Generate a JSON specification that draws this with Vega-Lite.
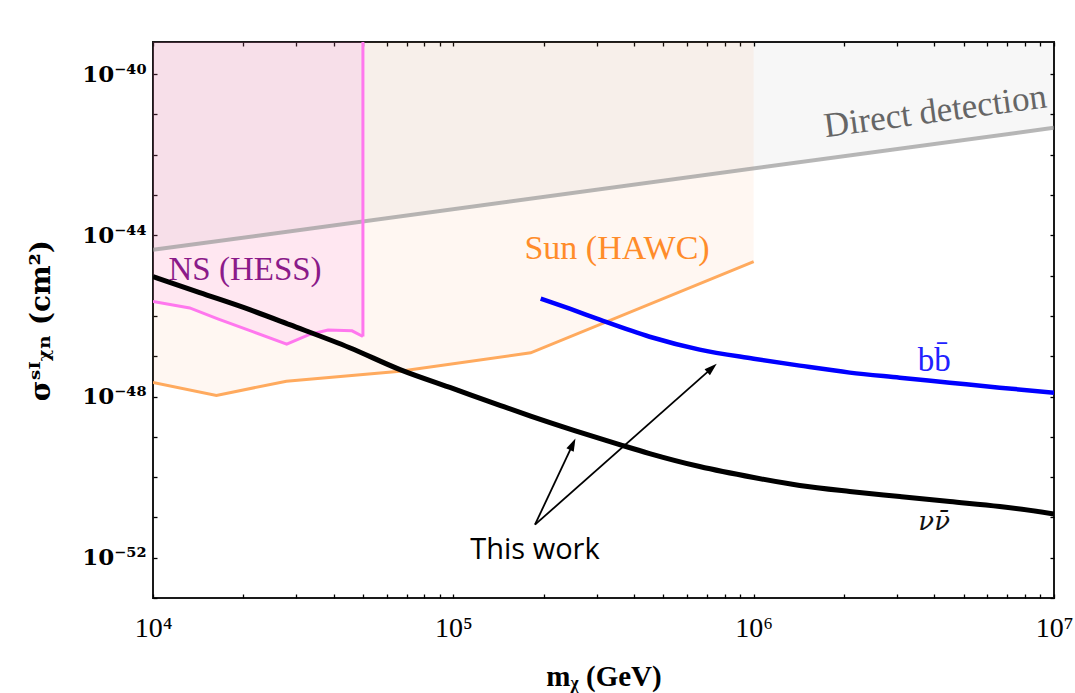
{
  "$schema": "https://vega.github.io/schema/vega-lite/v6.json",
  "width": 901,
  "height": 556,
  "autosize": {"type": "none"},
  "padding": {"left": 153, "top": 42, "right": 21, "bottom": 95},
  "background": "white",
  "datasets": {
    "nu": [
      {"m": 10000, "s": 9.42e-46}, {"m": 14310, "s": 3.78e-46}, {"m": 20990, "s": 1.43e-46},
      {"m": 28510, "s": 6.08e-47}, {"m": 45190, "s": 1.63e-47}, {"m": 66450, "s": 4.66e-48},
      {"m": 100000, "s": 1.57e-48}, {"m": 143700, "s": 5.96e-49}, {"m": 180900, "s": 3.27e-49},
      {"m": 253300, "s": 1.43e-49}, {"m": 357800, "s": 6.43e-50}, {"m": 450300, "s": 3.85e-50},
      {"m": 660700, "s": 1.83e-50}, {"m": 1000000, "s": 9.77e-51}, {"m": 1424000, "s": 6.19e-51},
      {"m": 2089000, "s": 4.40e-51}, {"m": 3066000, "s": 3.30e-51}, {"m": 4498000, "s": 2.48e-51},
      {"m": 6598000, "s": 1.87e-51}, {"m": 10000000, "s": 1.22e-51}
    ],
    "bb": [
      {"m": 195400, "s": 2.68e-46}, {"m": 244100, "s": 1.51e-46}, {"m": 307300, "s": 8.07e-47},
      {"m": 450300, "s": 3.05e-47}, {"m": 660700, "s": 1.46e-47}, {"m": 1000000, "s": 8.71e-48},
      {"m": 1424000, "s": 5.85e-48}, {"m": 2089000, "s": 3.92e-48}, {"m": 3066000, "s": 2.94e-48},
      {"m": 4498000, "s": 2.21e-48}, {"m": 6598000, "s": 1.66e-48}, {"m": 10000000, "s": 1.25e-48}
    ],
    "sun": [
      {"m": 10000, "s": 2.25e-48}, {"m": 16260, "s": 1.07e-48}, {"m": 27810, "s": 2.39e-48},
      {"m": 66450, "s": 4.23e-48}, {"m": 180900, "s": 1.22e-47}, {"m": 1000000, "s": 2.22e-45}
    ],
    "ns": [
      {"m": 10000, "s": 2.29e-46}, {"m": 13250, "s": 1.58e-46}, {"m": 16430, "s": 8.51e-47},
      {"m": 21480, "s": 4.07e-47}, {"m": 27880, "s": 2.0e-47}, {"m": 33240, "s": 3.47e-47},
      {"m": 38270, "s": 4.47e-47}, {"m": 46000, "s": 4.27e-47}, {"m": 50000, "s": 3.09e-47}
    ],
    "nsedge": [{"m": 50000, "s": 3.09e-47}],
    "dd": [{"m": 10000, "s": 4.37e-45}, {"m": 10000000, "s": 4.68e-42}],
    "arrows": [
      {"m": 187000, "s": 6.6e-52, "m2": 248500, "s2": 6.0e-50},
      {"m": 187000, "s": 6.6e-52, "m2": 719500, "s2": 4.8e-48}
    ],
    "head1": [{"m": 248500, "s": 6.0e-50}],
    "head2": [{"m": 719500, "s": 4.8e-48}]
  },
  "layer": [
    {
      "layer": [
        {
          "data": {"name": "sun"},
          "mark": {"type": "area", "color": "#ff9a4a", "opacity": 0.075, "clip": true},
          "encoding": {
            "x": {
              "field": "m", "type": "quantitative",
              "scale": {"type": "log", "domain": [10000, 10000000], "nice": false},
              "axis": {
                "orient": "bottom",
                "values": [10000, 20000, 30000, 40000, 50000, 60000, 70000, 80000, 90000, 100000, 200000, 300000, 400000, 500000, 600000, 700000, 800000, 900000, 1000000, 2000000, 3000000, 4000000, 5000000, 6000000, 7000000, 8000000, 9000000, 10000000],
                "labelExpr": "datum.value == 10000 ? '10⁴' : datum.value == 100000 ? '10⁵' : datum.value == 1000000 ? '10⁶' : datum.value == 10000000 ? '10⁷' : ''",
                "labelFont": "Liberation Serif", "labelFontSize": 28, "labelColor": "#000",
                "labelPadding": 20, "labelFlush": false, "labelOverlap": false,
                "title": "mᵪ (GeV)", "titleFont": "Liberation Serif", "titleFontSize": 29, "titleFontWeight": "bold",
                "titleColor": "#000", "titlePadding": 20
              }
            },
            "y": {
              "field": "s", "type": "quantitative",
              "scale": {"type": "log", "domain": [1e-53, 6.3e-40], "nice": false},
              "axis": {
                "orient": "left",
                "values": [1e-53, 1e-52, 1e-51, 1e-50, 1e-49, 1e-48, 1e-47, 1e-46, 1e-45, 1e-44, 1e-43, 1e-42, 1e-41, 1e-40],
                "labelExpr": "datum.value == 1e-52 ? '10⁻⁵²' : datum.value == 1e-48 ? '10⁻⁴⁸' : datum.value == 1e-44 ? '10⁻⁴⁴' : datum.value == 1e-40 ? '10⁻⁴⁰' : ''",
                "labelFont": "DejaVu Serif", "labelFontSize": 23, "labelFontWeight": "bold", "labelColor": "#000",
                "labelPadding": 11, "labelOverlap": false, "labelFlush": false,
                "title": "σˢᴵᵪₙ (cm²)", "titleFont": "DejaVu Serif", "titleFontSize": 28, "titleFontWeight": "bold",
                "titleColor": "#000", "titlePadding": 26
              }
            },
            "y2": {"datum": 1e-38}
          }
        },
        {
          "data": {"name": "ns"},
          "mark": {"type": "area", "color": "#ff77ee", "opacity": 0.12, "clip": true},
          "encoding": {
            "x": {"field": "m", "type": "quantitative"},
            "y": {"field": "s", "type": "quantitative"},
            "y2": {"datum": 1e-38}
          }
        },
        {
          "data": {"name": "dd"},
          "mark": {"type": "area", "color": "#000000", "opacity": 0.03, "clip": true},
          "encoding": {
            "x": {"field": "m", "type": "quantitative"},
            "y": {"field": "s", "type": "quantitative"},
            "y2": {"datum": 1e-38}
          }
        },
        {
          "data": {"name": "dd"},
          "mark": {"type": "line", "color": "#999999", "opacity": 0.7, "strokeWidth": 4, "clip": true},
          "encoding": {
            "x": {"field": "m", "type": "quantitative"},
            "y": {"field": "s", "type": "quantitative"}
          }
        },
        {
          "data": {"name": "sun"},
          "mark": {"type": "line", "color": "#ffaa5e", "strokeWidth": 3, "clip": true},
          "encoding": {
            "x": {"field": "m", "type": "quantitative"},
            "y": {"field": "s", "type": "quantitative"}
          }
        },
        {
          "data": {"name": "ns"},
          "mark": {"type": "line", "color": "#ff77ee", "strokeWidth": 3, "clip": true},
          "encoding": {
            "x": {"field": "m", "type": "quantitative"},
            "y": {"field": "s", "type": "quantitative"}
          }
        },
        {
          "data": {"name": "nsedge"},
          "mark": {"type": "rule", "color": "#ff77ee", "strokeWidth": 3, "clip": true},
          "encoding": {
            "x": {"field": "m", "type": "quantitative"},
            "y": {"field": "s", "type": "quantitative"},
            "y2": {"datum": 1e-38}
          }
        },
        {
          "data": {"name": "bb"},
          "mark": {"type": "line", "color": "#0000ff", "strokeWidth": 4.5, "interpolate": "monotone", "clip": true},
          "encoding": {
            "x": {"field": "m", "type": "quantitative"},
            "y": {"field": "s", "type": "quantitative"}
          }
        },
        {
          "data": {"name": "nu"},
          "mark": {"type": "line", "color": "#000000", "strokeWidth": 5, "interpolate": "monotone", "clip": true},
          "encoding": {
            "x": {"field": "m", "type": "quantitative"},
            "y": {"field": "s", "type": "quantitative"}
          }
        },
        {
          "data": {"name": "arrows"},
          "mark": {"type": "rule", "color": "#000000", "strokeWidth": 1.8},
          "encoding": {
            "x": {"field": "m", "type": "quantitative"},
            "y": {"field": "s", "type": "quantitative"},
            "x2": {"field": "m2"},
            "y2": {"field": "s2"}
          }
        },
        {
          "data": {"name": "head1"},
          "mark": {"type": "point", "shape": "M0,-1.2L0.6,0.7L-0.6,0.7Z", "filled": true, "color": "#000", "opacity": 1, "size": 180, "angle": 25},
          "encoding": {
            "x": {"field": "m", "type": "quantitative"},
            "y": {"field": "s", "type": "quantitative"}
          }
        },
        {
          "data": {"name": "head2"},
          "mark": {"type": "point", "shape": "M0,-1.2L0.6,0.7L-0.6,0.7Z", "filled": true, "color": "#000", "opacity": 1, "size": 180, "angle": 48},
          "encoding": {
            "x": {"field": "m", "type": "quantitative"},
            "y": {"field": "s", "type": "quantitative"}
          }
        },
        {
          "data": {"values": [{"m": 4020000, "s": 1.2e-41, "t": "Direct detection"}]},
          "mark": {"type": "text", "font": "Liberation Serif", "fontSize": 35, "color": "#666666", "angle": 352.3},
          "encoding": {
            "x": {"field": "m", "type": "quantitative"},
            "y": {"field": "s", "type": "quantitative"},
            "text": {"field": "t"}
          }
        },
        {
          "data": {"values": [{"m": 20250, "s": 1.41e-45, "t": "NS (HESS)"}]},
          "mark": {"type": "text", "font": "Liberation Serif", "fontSize": 33, "color": "#8b1a89"},
          "encoding": {
            "x": {"field": "m", "type": "quantitative"},
            "y": {"field": "s", "type": "quantitative"},
            "text": {"field": "t"}
          }
        },
        {
          "data": {"values": [{"m": 350900, "s": 4.68e-45, "t": "Sun (HAWC)"}]},
          "mark": {"type": "text", "font": "Liberation Serif", "fontSize": 34, "color": "#ff8c2a"},
          "encoding": {
            "x": {"field": "m", "type": "quantitative"},
            "y": {"field": "s", "type": "quantitative"},
            "text": {"field": "t"}
          }
        },
        {
          "data": {"values": [{"m": 3990000, "s": 7.76e-48, "t": "bb̄"}]},
          "mark": {"type": "text", "font": "Liberation Serif", "fontSize": 33, "color": "#2222ff"},
          "encoding": {
            "x": {"field": "m", "type": "quantitative"},
            "y": {"field": "s", "type": "quantitative"},
            "text": {"field": "t"}
          }
        },
        {
          "data": {"values": [{"m": 3990000, "s": 7.9e-52, "t": "νν̄"}]},
          "mark": {"type": "text", "font": "DejaVu Serif", "fontSize": 26, "fontStyle": "italic", "color": "#111111"},
          "encoding": {
            "x": {"field": "m", "type": "quantitative"},
            "y": {"field": "s", "type": "quantitative"},
            "text": {"field": "t"}
          }
        },
        {
          "data": {"values": [{"m": 187000, "s": 1.51e-52, "t": "This work"}]},
          "mark": {"type": "text", "font": "Open Sans", "fontSize": 29, "color": "#000000"},
          "encoding": {
            "x": {"field": "m", "type": "quantitative"},
            "y": {"field": "s", "type": "quantitative"},
            "text": {"field": "t"}
          }
        }
      ]
    },
    {
      "data": {"name": "dd"},
      "mark": {"type": "point", "opacity": 0},
      "encoding": {
        "x": {
          "field": "m", "type": "quantitative",
          "scale": {"type": "log", "domain": [10000, 10000000], "nice": false},
          "axis": {
            "orient": "top", "labels": false, "title": null, "domain": false,
            "values": [10000, 20000, 30000, 40000, 50000, 60000, 70000, 80000, 90000, 100000, 200000, 300000, 400000, 500000, 600000, 700000, 800000, 900000, 1000000, 2000000, 3000000, 4000000, 5000000, 6000000, 7000000, 8000000, 9000000, 10000000]
          }
        },
        "y": {
          "field": "s", "type": "quantitative",
          "scale": {"type": "log", "domain": [1e-53, 6.3e-40], "nice": false},
          "axis": {
            "orient": "right", "labels": false, "title": null, "domain": false,
            "values": [1e-53, 1e-52, 1e-51, 1e-50, 1e-49, 1e-48, 1e-47, 1e-46, 1e-45, 1e-44, 1e-43, 1e-42, 1e-41, 1e-40]
          }
        }
      }
    }
  ],
  "resolve": {"axis": {"x": "independent", "y": "independent"}},
  "config": {
    "view": {"stroke": "#1a1a1a", "strokeWidth": 2},
    "axis": {
      "grid": false,
      "domain": false,
      "ticks": true,
      "tickSize": -4,
      "tickColor": "#000",
      "tickWidth": 1.3
    }
  }
}
